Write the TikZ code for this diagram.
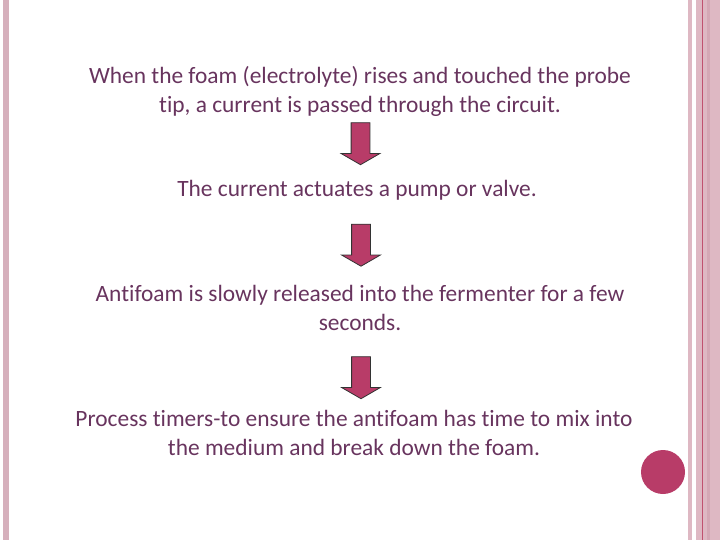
\documentclass[tikz,border=0pt]{standalone}
\usepackage{fontspec}
\setmainfont{Carlito}[Ligatures=NoCommon]
\usetikzlibrary{shapes.arrows}
\definecolor{barpink}{RGB}{214,176,188}
\definecolor{lightpink}{RGB}{222,184,195}
\definecolor{midpink}{RGB}{212,168,181}
\definecolor{linered}{RGB}{192,82,112}
\definecolor{deeppink}{RGB}{184,60,104}
\definecolor{textpurple}{RGB}{104,52,94}
\tikzset{
  steptext/.style={text=textpurple, align=center, inner sep=0pt,
    font=\fontsize{23.4}{29}\selectfont},
  stepdown/.style={single arrow, draw=black!80, fill=deeppink, line width=0.8pt,
    shape border rotate=270, minimum height=42pt, inner xsep=9pt, inner ysep=0pt,
    single arrow head extend=10pt, single arrow tip angle=120}
}
\begin{document}
\begin{tikzpicture}[x=1pt,y=-1pt]
  \useasboundingbox (0,0) rectangle (720,540);
  % side bars
  \fill[barpink] (3,0) rectangle (9,540);
  \fill[lightpink] (688,0) rectangle (692,540);
  \fill[lightpink] (696,0) rectangle (720,540);
  \fill[midpink] (707,0) rectangle (710,540);
  \draw[linered,line width=0.7pt] (702,0) -- (702,540);
  \fill[deeppink] (663,472) circle (22);
  % steps
  \node[steptext] (probe) at (360,91.5) {When the foam (electrolyte) rises and touched the probe\\tip, a current is passed through the circuit.};
  \node[steptext] (pump) at (357,190) {The current actuates a pump or valve.};
  \node[steptext] (release) at (360,307.5) {Antifoam is slowly released into the fermenter for a few\\seconds.};
  \node[steptext] (timers) at (354,432.5) {Process timers-to ensure the antifoam has time to mix into\\the medium and break down the foam.};
  % arrows
  \node[stepdown] (arrow1) at (360.5,141) {};
  \node[stepdown] (arrow2) at (361,242.5) {};
  \node[stepdown] (arrow3) at (361,375) {};
\end{tikzpicture}
\end{document}
